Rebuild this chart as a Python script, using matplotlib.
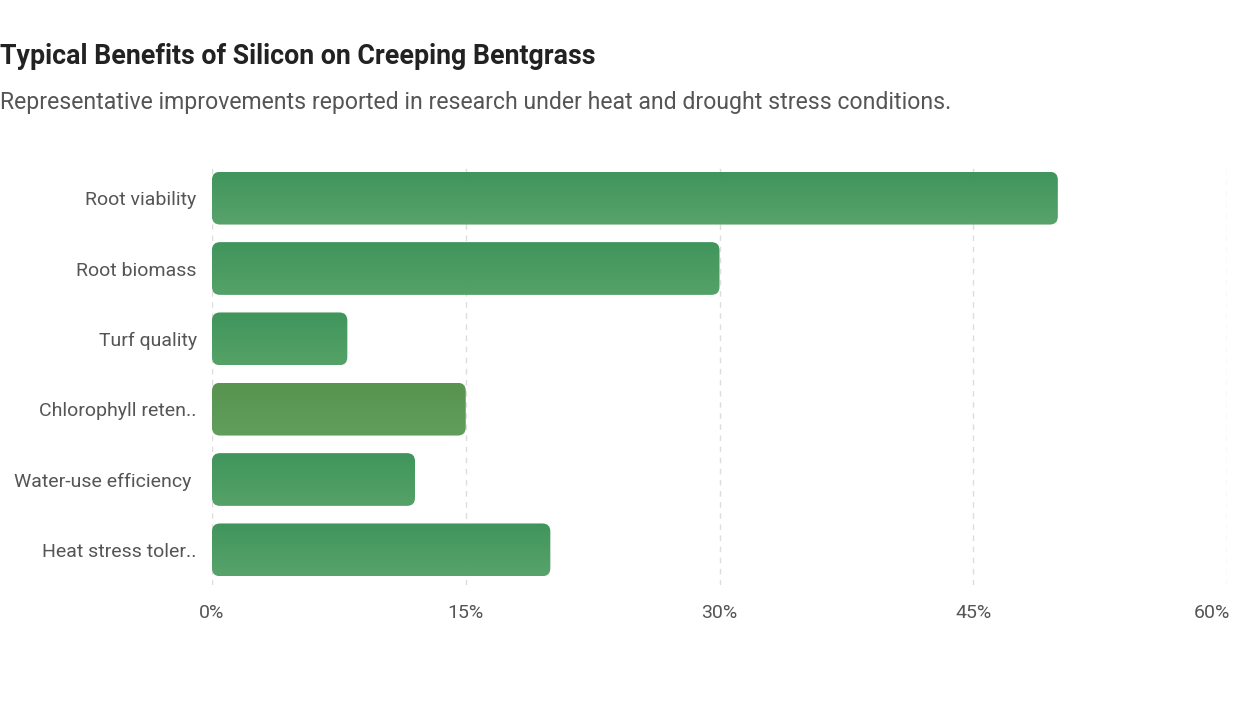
import numpy as np
import matplotlib
import matplotlib.pyplot as plt
import matplotlib.transforms as mtransforms
from matplotlib.patches import FancyBboxPatch
from matplotlib.colors import LinearSegmentedColormap
matplotlib.use("Agg")

plt.rcParams["font.family"] = ["Roboto", "DejaVu Sans"]

# Data
categories = [
    "Root viability",
    "Root biomass",
    "Turf quality",
    "Chlorophyll reten..",
    "Water-use efficiency ",
    "Heat stress toler..",
]
improvement = [50, 30, 8, 15, 12, 20]
bar_top_colors = ["#3a9257", "#3a9257", "#3a9257", "#53914a", "#3a9257", "#3a9257"]
bar_bottom_colors = ["#52a066", "#4f9f63", "#4f9f63", "#5c9b56", "#4f9f63", "#52a066"]
x_ticks = [0, 15, 30, 45, 60]

title = "Typical Benefits of Silicon on Creeping Bentgrass"
subtitle = "Representative improvements reported in research under heat and drought stress conditions."

W, H = 1248, 702
fig = plt.figure(figsize=(W / 100, H / 100), dpi=100)
fig.patch.set_facecolor("white")

# axes placed in pixel terms
left, right, top, bottom = 212, 1227, 163, 585
ax = fig.add_axes([left / W, 1 - bottom / H, (right - left) / W, (bottom - top) / H])

n = len(categories)
ax.set_xlim(0, 60)
ax.set_ylim(n - 0.5, -0.5)

bar_h = 0.75
# keep the corner round in screen space
px_x = (right - left) / 60.0
px_y = (bottom - top) / n
aspect = px_x / px_y
radius_px = 8
r = radius_px / px_x

for i, (val, c0, c1) in enumerate(zip(improvement, bar_top_colors, bar_bottom_colors)):
    y0 = i - bar_h / 2
    patch = FancyBboxPatch(
        (0, y0), val, bar_h,
        boxstyle=f"round,pad=0,rounding_size={r}",
        mutation_aspect=aspect,
        facecolor="none", edgecolor="none", zorder=2,
    )
    ax.add_patch(patch)
    cmap = LinearSegmentedColormap.from_list(f"g{i}", [c0, c1])
    grad = np.linspace(0, 1, 64).reshape(-1, 1)
    im = ax.imshow(
        grad, cmap=cmap, aspect="auto",
        extent=(0, val, y0 + bar_h, y0),
        zorder=2, alpha=0.97, interpolation="bilinear",
    )
    im.set_clip_path(patch)

ax.set_xlim(0, 60)
ax.set_ylim(n - 0.5, -0.5)

ax.set_xticks(x_ticks)
ax.set_xticklabels([f"{t}%" for t in x_ticks])
ax.set_yticks(range(n))
ax.set_yticklabels(categories)
ax.tick_params(axis="both", length=0, labelsize=14, labelcolor="#555555")
ax.tick_params(axis="x", pad=14)
ax.tick_params(axis="y", pad=11)

# last tick label kept inside the canvas
last = ax.get_xticklabels()[-1]
last.set_ha("right")
last.set_transform(last.get_transform() + mtransforms.ScaledTranslation(3 / 100, 0, fig.dpi_scale_trans))

ax.grid(axis="x", linestyle=(0, (4, 4)), color="#dddddd", linewidth=1, zorder=0)
ax.set_axisbelow(True)
for s in ax.spines.values():
    s.set_visible(False)

fig.text(0, 1 - 64 / H, title, fontsize=19.3, fontweight="bold", color="#222222",
         ha="left", va="baseline")
fig.text(0, 1 - 109 / H, subtitle, fontsize=16.6, color="#555555",
         ha="left", va="baseline")

fig.savefig("out.png", dpi=100, facecolor="white")
